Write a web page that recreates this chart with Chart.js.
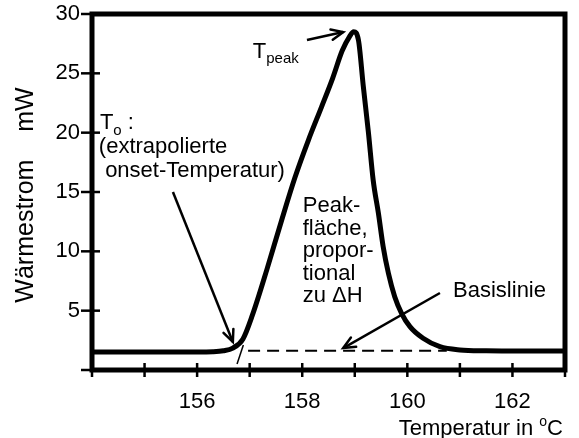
<!DOCTYPE html>
<html>
<head>
<meta charset="utf-8">
<script src="https://cdn.jsdelivr.net/npm/chart.js@4.4.1/dist/chart.umd.min.js"></script>
<style>
  html, body { margin: 0; padding: 0; background: #fff; }
</style>
</head>
<body>
<canvas id="dsc" width="579" height="438"></canvas>
<script>
/* DSC-Kurve: Wärmestrom über Temperatur */
const FONT = '"Liberation Sans", Arial, sans-serif';

/* ── DATEN ─────────────────────────────────── */
const xLabelled = [156, 158, 160, 162];
const yLabelled = [5, 10, 15, 20, 25, 30];

const curveT = [154, 155, 156, 156.3, 156.5, 156.68, 156.87, 157.05, 157.33, 157.6, 157.86,
                158.12, 158.37, 158.58, 158.76, 158.9, 158.98, 159.07, 159.16, 159.26, 159.35,
                159.45, 159.54, 159.64, 159.76, 159.89, 160.05, 160.3, 160.62, 161.0, 161.5,
                162.2, 163];
const curveW = [1.52, 1.52, 1.52, 1.54, 1.62, 1.85, 2.6, 4.6, 8.5, 12.5, 16.2,
                19.4, 22.2, 24.6, 26.9, 28.1, 28.5, 27.8, 24.0, 20.0, 16.0,
                13.2, 10.4, 8.15, 6.18, 4.78, 3.65, 2.67, 1.96, 1.69, 1.62,
                1.6, 1.6];

const baseT = [156.97, 160.75];
const baseW = [1.63, 1.63];

const tangentT = [156.76, 156.88];
const tangentW = [0.5, 2.1];

const arrowOnsetT = [155.54, 156.68];
const arrowOnsetW = [15.0, 2.36];
const arrowPeakT  = [158.09, 158.78];
const arrowPeakW  = [27.81, 28.48];
const arrowBaseT  = [160.62, 158.78];
const arrowBaseW  = [6.49, 1.85];

const pts = (xs, ys) => xs.map((x, i) => ({ x, y: ys[i] }));

/* ── BESCHRIFTUNGEN (Datenkoordinaten) ─────── */
const notes = [
  { t: 157.06, w: 26.29, runs: [['T', 22, 0], ['peak', 15, 5]] },
  { t: 154.15, w: 20.31, runs: [['T', 22, 0], ['o', 15, 6], [' :', 22, 0]] },
  { t: 154.13, w: 18.29, runs: [['(extrapolierte', 22, 0]] },
  { t: 154.25, w: 16.26, runs: [['onset-Temperatur)', 22, 0]] },
  { t: 158.01, w: 13.31, runs: [['Peak-', 22, 0]] },
  { t: 158.01, w: 11.38, runs: [['fläche,', 22, 0]] },
  { t: 158.01, w: 9.52,  runs: [['propor-', 22, 0]] },
  { t: 158.01, w: 7.58,  runs: [['tional', 22, 0]] },
  { t: 158.01, w: 5.73,  runs: [['zu \u0394H', 22, 0]] },
  { t: 160.87, w: 6.15,  runs: [['Basislinie', 22, 0]] }
];

function drawRuns(ctx, x, y, runs) {
  runs.forEach(([txt, size, dy]) => {
    ctx.font = size + 'px ' + FONT;
    ctx.fillText(txt, x, y + dy);
    x += ctx.measureText(txt).width;
  });
}
function runsWidth(ctx, runs) {
  let w = 0;
  runs.forEach(([txt, size]) => { ctx.font = size + 'px ' + FONT; w += ctx.measureText(txt).width; });
  return w;
}

const ARROW_SETS = [3, 4, 5];

const decor = {
  id: 'decor',
  afterDatasetsDraw(chart) {
    const { ctx, chartArea: a, scales: { x, y } } = chart;
    ctx.save();
    ctx.strokeStyle = '#000';
    ctx.fillStyle = '#000';

    // Rahmen
    ctx.lineWidth = 5;
    ctx.lineJoin = 'miter';
    ctx.strokeRect(a.left, a.top, a.right - a.left, a.bottom - a.top);

    // Striche, über die Achse hinweg
    ctx.lineWidth = 2.5;
    ctx.lineCap = 'butt';
    x.ticks.forEach(tk => {
      const px = x.getPixelForValue(tk.value);
      ctx.beginPath(); ctx.moveTo(px, a.bottom - 7); ctx.lineTo(px, a.bottom + 7); ctx.stroke();
    });
    y.ticks.forEach(tk => {
      const py = y.getPixelForValue(tk.value);
      ctx.beginPath(); ctx.moveTo(a.left - 11, py); ctx.lineTo(a.left + 8, py); ctx.stroke();
    });

    // Pfeilspitzen
    ctx.lineWidth = 2.5;
    ctx.lineCap = 'round';
    ARROW_SETS.forEach(i => {
      const d = chart.getDatasetMeta(i).data;
      const p0 = d[0], p1 = d[d.length - 1];
      const ang = Math.atan2(p1.y - p0.y, p1.x - p0.x);
      const len = 13, spread = 0.42;
      ctx.beginPath();
      ctx.moveTo(p1.x - len * Math.cos(ang - spread), p1.y - len * Math.sin(ang - spread));
      ctx.lineTo(p1.x, p1.y);
      ctx.lineTo(p1.x - len * Math.cos(ang + spread), p1.y - len * Math.sin(ang + spread));
      ctx.stroke();
    });

    // Texte
    ctx.textAlign = 'left';
    ctx.textBaseline = 'alphabetic';
    notes.forEach(n => drawRuns(ctx, x.getPixelForValue(n.t), y.getPixelForValue(n.w), n.runs));

    // Achsentitel x
    const xt = [['Temperatur in ', 22, 0], ['o', 14, -9], ['C', 22, 0]];
    drawRuns(ctx, a.right - 2 - runsWidth(ctx, xt), 435, xt);

    // Achsentitel y
    ctx.translate(33, (a.top + a.bottom) / 2 + 3);
    ctx.rotate(-Math.PI / 2);
    ctx.textAlign = 'center';
    ctx.font = '25px ' + FONT;
    ctx.fillText('Wärmestrom    mW', 0, 0);
    ctx.restore();
  }
};

const lineSet = (data, width, extra) => Object.assign({
  data, borderColor: '#000', borderWidth: width, pointRadius: 0,
  showLine: true, fill: false, tension: 0
}, extra || {});

new Chart(document.getElementById('dsc'), {
  type: 'scatter',
  data: {
    datasets: [
      lineSet(pts(curveT, curveW), 5, { cubicInterpolationMode: 'monotone', borderCapStyle: 'butt', borderJoinStyle: 'round' }),
      lineSet(pts(baseT, baseW), 2, { borderDash: [12, 7] }),
      lineSet(pts(tangentT, tangentW), 1.5),
      lineSet(pts(arrowOnsetT, arrowOnsetW), 2.5, { clip: false }),
      lineSet(pts(arrowPeakT, arrowPeakW), 2.5, { clip: false }),
      lineSet(pts(arrowBaseT, arrowBaseW), 2.5, { clip: false })
    ]
  },
  options: {
    responsive: false,
    animation: false,
    layout: { padding: { top: 14, right: 14, left: 0, bottom: 0 } },
    plugins: { legend: { display: false }, tooltip: { enabled: false } },
    scales: {
      x: {
        type: 'linear', min: 154, max: 163,
        grid: { display: false, drawTicks: false },
        border: { display: false },
        ticks: {
          stepSize: 1, padding: 19, color: '#000', maxRotation: 0, autoSkip: false,
          font: { family: FONT, size: 22 },
          callback: v => xLabelled.includes(v) ? String(v) : ''
        },
        afterFit: s => { s.height = 68; s.paddingLeft = 0; s.paddingRight = 0; }
      },
      y: {
        type: 'linear', min: 0, max: 30,
        grid: { display: false, drawTicks: false },
        border: { display: false },
        ticks: {
          stepSize: 5, padding: 12, color: '#000',
          font: { family: FONT, size: 22 },
          callback: v => yLabelled.includes(v) ? String(v) : ''
        },
        afterFit: s => { s.width = 92; s.paddingTop = 0; s.paddingBottom = 0; }
      }
    }
  },
  plugins: [decor]
});
</script>
</body>
</html>
